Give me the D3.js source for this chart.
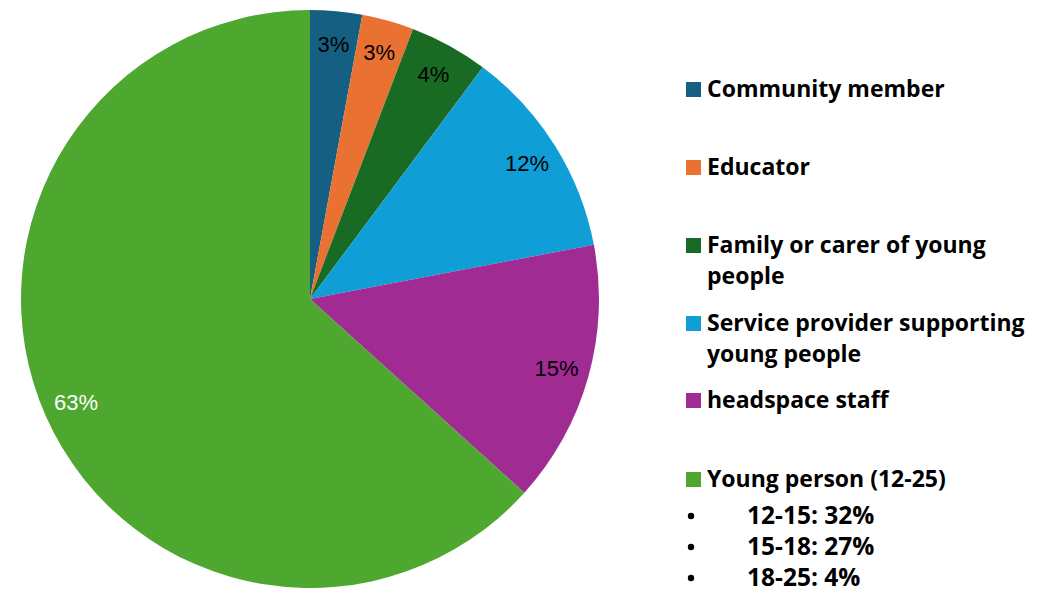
<!DOCTYPE html>
<html>
<head>
<meta charset="utf-8">
<script src="https://cdn.jsdelivr.net/npm/d3@7"></script>
<style>
  html, body { margin: 0; padding: 0; background: #fff; }
  svg { display: block; }
</style>
</head>
<body>
<div id="container"></div>
<script>
// slice data, clockwise from 12 o'clock
let categories = ["Community member", "Educator", "Family or carer of young people",
  "Service provider supporting young people", "headspace staff", "Young person (12-25)"];
let shares = [2.9, 2.9, 4.4, 11.8, 14.7, 63.3];
let sliceColors = ["#156082", "#E97132", "#196B24", "#0F9ED5", "#A02B93", "#4EA72E"];
let labelColors = ["#000", "#000", "#000", "#000", "#000", "#fff"];

// legend text lines (wrapped like the original)
let legendLines = [
  ["Community member"],
  ["Educator"],
  ["Family or carer of young", "people"],
  ["Service provider supporting", "young people"],
  ["headspace staff"],
  ["Young person (12-25)"]
];
let legendBaselines = [97, 175, 253, 331, 408, 487];
let ageGroups = ["12-15: 32%", "15-18: 27%", "18-25: 4%"];

let width = 1051, height = 593;
let cx = 310, cy = 299, radius = 289;

let viz = d3.select("#container")
  .append("svg")
    .attr("width", width)
    .attr("height", height)
;

let pie = d3.pie().sort(null).value(d => d.value);
let arc = d3.arc().innerRadius(0).outerRadius(radius);
let labelArc = d3.arc().innerRadius(256).outerRadius(256);

let data = categories.map((c, i) => ({ name: c, value: shares[i], i: i }));

let pieGroup = viz.append("g")
    .attr("transform", "translate(" + cx + "," + cy + ")")
;

pieGroup.selectAll("path")
  .data(pie(data))
  .enter()
  .append("path")
    .attr("d", arc)
    .attr("fill", d => sliceColors[d.data.i])
;

pieGroup.selectAll("text")
  .data(pie(data))
  .enter()
  .append("text")
    .attr("transform", d => "translate(" + labelArc.centroid(d) + ")")
    .attr("text-anchor", "middle")
    .attr("dominant-baseline", "central")
    .attr("font-family", "'Liberation Sans', Arial, sans-serif")
    .attr("font-size", 22)
    .attr("fill", d => labelColors[d.data.i])
    .text(d => Math.round(d.data.value) + "%")
;

// legend
let legend = viz.append("g").attr("font-family", "'Open Sans', sans-serif").attr("font-weight", 700);

let items = legend.selectAll(".item")
  .data(legendLines)
  .enter()
  .append("g")
    .attr("class", "item")
    .attr("transform", (d, i) => "translate(0," + legendBaselines[i] + ")")
;

items.append("rect")
    .attr("x", 686)
    .attr("y", -15)
    .attr("width", 15)
    .attr("height", 15)
    .attr("fill", (d, i) => sliceColors[i])
;

items.selectAll("text")
  .data(d => d)
  .enter()
  .append("text")
    .attr("x", 707)
    .attr("y", (d, j) => j * 31)
    .attr("font-size", 23)
    .attr("fill", "#000")
    .text(d => d)
;

// age breakdown under "Young person"
let bullets = legend.selectAll(".age")
  .data(ageGroups)
  .enter()
  .append("g")
    .attr("class", "age")
    .attr("transform", (d, i) => "translate(0," + (524 + i * 31) + ")")
;

bullets.append("circle")
    .attr("cx", 691)
    .attr("cy", -8)
    .attr("r", 3.2)
    .attr("fill", "#000")
;

bullets.append("text")
    .attr("x", 747)
    .attr("font-size", 24.5)
    .attr("fill", "#000")
    .text(d => d)
;
</script>
</body>
</html>
